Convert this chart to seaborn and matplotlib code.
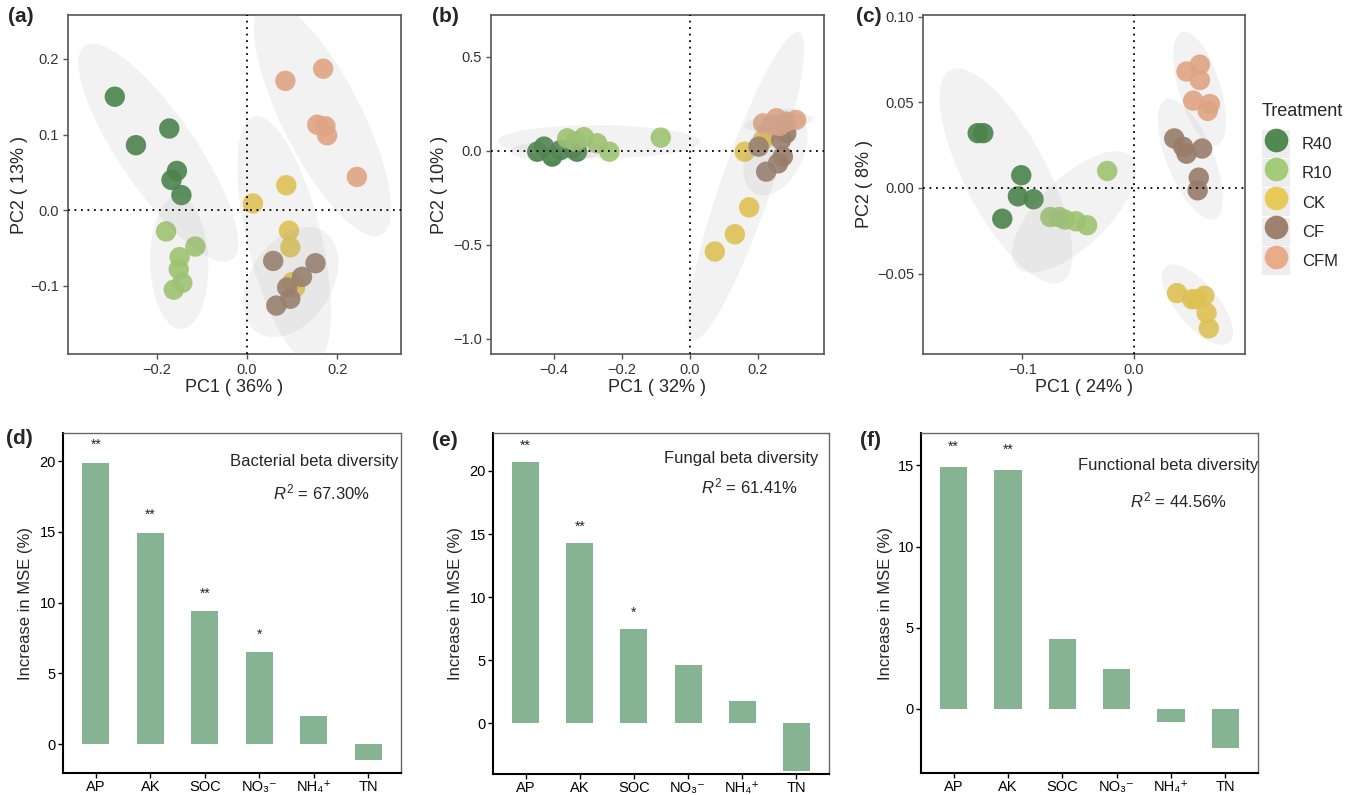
import numpy as np
import pandas as pd
import matplotlib
matplotlib.use('Agg')
import matplotlib.pyplot as plt
from matplotlib.lines import Line2D
from matplotlib.patches import Rectangle
from matplotlib.legend_handler import HandlerTuple
import seaborn as sns

sns.set_style('ticks')
plt.rcParams['font.family'] = ['Liberation Sans', 'DejaVu Sans']
plt.rcParams['mathtext.fontset'] = 'custom'
plt.rcParams['mathtext.rm'] = 'Liberation Sans'
plt.rcParams['mathtext.it'] = 'Liberation Sans:italic'
plt.rcParams['mathtext.bf'] = 'Liberation Sans:bold'

# ── treatments / colours ──
treatments = ['R40', 'R10', 'CK', 'CF', 'CFM']
colors = ['#3F7F3F', '#9CC86C', '#E8C64A', '#977760', '#E9A580']
groups = np.repeat(treatments, 6)

# ── PCA scores, 6 samples per treatment (R40, R10, CK, CF, CFM) ──
a_pc1 = [-0.294, -0.247, -0.173, -0.156, -0.168, -0.146,
         -0.180, -0.115, -0.150, -0.152, -0.144, -0.163,
         0.013, 0.087, 0.093, 0.096, 0.107, 0.100,
         0.058, 0.152, 0.122, 0.089, 0.096, 0.065,
         0.085, 0.169, 0.156, 0.174, 0.178, 0.244]
a_pc2 = [0.150, 0.086, 0.108, 0.052, 0.040, 0.020,
         -0.028, -0.048, -0.062, -0.078, -0.096, -0.105,
         0.009, 0.033, -0.027, -0.049, -0.102, -0.095,
         -0.067, -0.070, -0.088, -0.102, -0.117, -0.126,
         0.171, 0.187, 0.113, 0.111, 0.099, 0.044]

b_pc1 = [-0.429, -0.449, -0.405, -0.380, -0.332, -0.346,
         -0.361, -0.312, -0.273, -0.237, -0.086, -0.337,
         0.161, 0.215, 0.174, 0.132, 0.073, 0.230,
         0.202, 0.224, 0.259, 0.273, 0.283, 0.268,
         0.215, 0.254, 0.283, 0.312, 0.239, 0.263]
b_pc2 = [0.023, -0.004, -0.030, 0.005, -0.004, 0.014,
         0.067, 0.073, 0.041, -0.004, 0.071, 0.050,
         -0.004, 0.059, -0.300, -0.443, -0.535, 0.100,
         0.023, -0.110, -0.066, -0.030, 0.094, 0.059,
         0.147, 0.174, 0.156, 0.165, 0.138, 0.133]

c_pc1 = [-0.140, -0.135, -0.101, -0.104, -0.090, -0.118,
         -0.024, -0.075, -0.062, -0.052, -0.042, -0.067,
         0.0385, 0.052, 0.063, 0.065, 0.067, 0.056,
         0.036, 0.044, 0.047, 0.061, 0.058, 0.057,
         0.047, 0.059, 0.059, 0.053, 0.068, 0.066]
c_pc2 = [0.032, 0.032, 0.0074, -0.0049, -0.0066, -0.018,
         0.0099, -0.017, -0.0185, -0.0195, -0.0218, -0.017,
         -0.0614, -0.065, -0.063, -0.073, -0.082, -0.065,
         0.0289, 0.024, 0.020, 0.023, 0.006, -0.0014,
         0.068, 0.072, 0.063, 0.051, 0.049, 0.045]

# ── random forest importance ──
variables = ['AP', 'AK', 'SOC', 'NO3', 'NH4', 'TN']
var_labels = ['AP', 'AK', 'SOC', 'NO\u2083\u207b', 'NH\u2084\u207a', 'TN']
bact_mse = [19.9, 14.95, 9.4, 6.5, 2.0, -1.15]
fung_mse = [20.7, 14.3, 7.5, 4.65, 1.75, -3.8]
func_mse = [14.9, 14.7, 4.3, 2.45, -0.8, -2.4]
bact_sig = ['**', '**', '**', '*', '', '']
fung_sig = ['**', '**', '*', '', '', '']
func_sig = ['**', '**', '', '', '', '']

W, H = 1361, 795
fig = plt.figure(figsize=(W / 100, H / 100), dpi=100)


def px_axes(l, r, t, b):
    return fig.add_axes([l / W, 1 - b / H, (r - l) / W, (b - t) / H])


def conf_ellipse(x, y, level=0.95, npts=120, shrink=0.88):
    x = np.asarray(x); y = np.asarray(y)
    n = len(x)
    d = n - 1
    fq = d / 2 * ((1 - level) ** (-2 / d) - 1)   # qf(level, 2, n-1)
    r = np.sqrt(2 * fq) * shrink
    vals, vecs = np.linalg.eigh(np.cov(x, y))
    t = np.linspace(0, 2 * np.pi, npts)
    circ = np.vstack([np.cos(t), np.sin(t)]) * np.sqrt(np.clip(vals, 0, None))[:, None]
    pts = vecs @ circ * r
    return x.mean() + pts[0], y.mean() + pts[1]


def pca_panel(ax, pc1, pc2, xlim, ylim, xticks, yticks, yfmt, xlab, ylab, ylab_x):
    df = pd.DataFrame({'PC1': pc1, 'PC2': pc2, 'Treatment': groups})
    ax.axhline(0, color='black', ls=(0, (1, 2.6)), lw=1.3, zorder=4)
    ax.axvline(0, color='black', ls=(0, (1, 2.6)), lw=1.3, zorder=4)
    sns.scatterplot(data=df, x='PC1', y='PC2', hue='Treatment', hue_order=treatments,
                    palette=colors, s=215, alpha=0.9, edgecolor='none', legend=False,
                    ax=ax, zorder=2)
    for g in treatments:
        sub = df[df['Treatment'] == g]
        ex, ey = conf_ellipse(sub['PC1'], sub['PC2'])
        ax.fill(ex, ey, color='#A0A0A0', alpha=0.13, lw=0, zorder=3)
    ax.set_xlim(xlim)
    ax.set_ylim(ylim)
    ax.set_xticks(xticks)
    ax.set_xticklabels([f'{v:.1f}'.replace('-', '\u2212') for v in xticks])
    ax.set_yticks(yticks)
    ax.set_yticklabels([yfmt.format(v).replace('-', '\u2212') for v in yticks])
    ax.set_xlabel(xlab, fontsize=13)
    ax.set_ylabel(ylab, fontsize=13)
    ax.xaxis.set_label_coords(0.5, -0.075)
    ax.yaxis.set_label_coords(ylab_x, 0.5)
    for sp in ax.spines.values():
        sp.set_color('#555555')
        sp.set_linewidth(1.2)
    ax.tick_params(axis='both', labelsize=10.5, colors='#333333', length=3.5,
                   width=1, pad=3, direction='out')
    ax.tick_params(axis='both', color='#555555')


ax_a = px_axes(68, 401, 15, 354)
pca_panel(ax_a, a_pc1, a_pc2, (-0.398, 0.342), (-0.19, 0.258),
          [-0.2, 0.0, 0.2], [-0.1, 0.0, 0.1, 0.2], '{:.1f}',
          'PC1 ( 36% )', 'PC2 ( 13% )', -0.12)

ax_b = px_axes(491, 824, 15, 354)
pca_panel(ax_b, b_pc1, b_pc2, (-0.585, 0.394), (-1.08, 0.723),
          [-0.4, -0.2, 0.0, 0.2], [-1.0, -0.5, 0.0, 0.5], '{:.1f}',
          'PC1 ( 32% )', 'PC2 ( 10% )', -0.129)

ax_c = px_axes(923, 1245, 15, 354)
pca_panel(ax_c, c_pc1, c_pc2, (-0.189, 0.0994), (-0.097, 0.101),
          [-0.1, 0.0], [-0.05, 0.0, 0.05, 0.10], '{:.2f}',
          'PC1 ( 24% )', 'PC2 ( 8% )', -0.155)

# legend (title drawn separately so the gap to the keys can be set)
fig.text(1262 / W, 1 - 111 / H, 'Treatment', ha='left', va='center', fontsize=13)
handles = [(Rectangle((0, 0), 1, 1, facecolor='#EDEDED', edgecolor='none'),
            Line2D([], [], marker='o', ls='', markersize=17, markerfacecolor=c,
                   markeredgecolor='none', alpha=0.9)) for c in colors]
fig.legend(handles, treatments, loc='upper left', bbox_to_anchor=(1262 / W, 1 - 130 / H),
           frameon=False, fontsize=12,
           handlelength=1.68, handleheight=2.2, labelspacing=0.08, handletextpad=0.72,
           borderpad=0, borderaxespad=0,
           handler_map={tuple: HandlerTuple(ndivide=1, pad=0)})


def mse_panel(ax, vals, sig, ylim, yticks, title, r2, tpos, rpos, ylab_x):
    df = pd.DataFrame({'var': variables, 'mse': vals})
    sns.barplot(data=df, x='var', y='mse', order=variables, color='#86B391',
                saturation=1, width=0.5, edgecolor='none', ax=ax)
    for i, (v, s) in enumerate(zip(vals, sig)):
        if s:
            ax.text(i, max(v, 0) + 1.25, s, ha='center', va='center', fontsize=10)
    ax.set_xlim(-0.6, 5.6)
    ax.set_ylim(ylim)
    ax.set_yticks(yticks)
    ax.set_xticks(range(len(variables)))
    ax.set_xticklabels(var_labels)
    ax.set_xlabel('')
    ax.set_ylabel('Increase in MSE (%)', fontsize=12)
    ax.yaxis.set_label_coords(ylab_x, 0.5)
    ax.text(tpos[0], tpos[1], title, transform=ax.transAxes, ha='right', va='center',
            fontsize=12)
    ax.text(rpos[0], rpos[1], r'$R^2$' + f' = {r2}', transform=ax.transAxes,
            ha='center', va='center', fontsize=12)
    for k in ['top', 'right']:
        ax.spines[k].set_color('#666666')
        ax.spines[k].set_linewidth(1.0)
    for k in ['left', 'bottom']:
        ax.spines[k].set_color('black')
        ax.spines[k].set_linewidth(1.5)
    ax.tick_params(axis='both', labelsize=10.5, colors='black', length=3.5,
                   width=1, pad=1.5, direction='out')


ax_d = px_axes(63, 401, 433, 773)
mse_panel(ax_d, bact_mse, bact_sig, (-2.05, 22.0), [0, 5, 10, 15, 20],
          'Bacterial beta diversity', '67.30%', (0.991, 0.915), (0.766, 0.826), -0.089)

ax_e = px_axes(493, 829, 433, 774)
mse_panel(ax_e, fung_mse, fung_sig, (-4.0, 23.0), [0, 5, 10, 15, 20],
          'Fungal beta diversity', '61.41%', (0.967, 0.924), (0.762, 0.843), -0.089)

ax_f = px_axes(921, 1258, 433, 773)
mse_panel(ax_f, func_mse, func_sig, (-3.95, 17.0), [0, 5, 10, 15],
          'Functional beta diversity', '44.56%', (1.0, 0.903), (0.763, 0.803), -0.083)

# panel letters
for lab, x, y in [('(a)', 8, 17), ('(b)', 432, 17), ('(c)', 856, 17),
                  ('(d)', 6, 438), ('(e)', 432, 440), ('(f)', 860, 440)]:
    fig.text(x / W, 1 - y / H, lab, ha='left', va='center', fontsize=15,
             fontweight='bold')

fig.savefig('out.png', dpi=100)
